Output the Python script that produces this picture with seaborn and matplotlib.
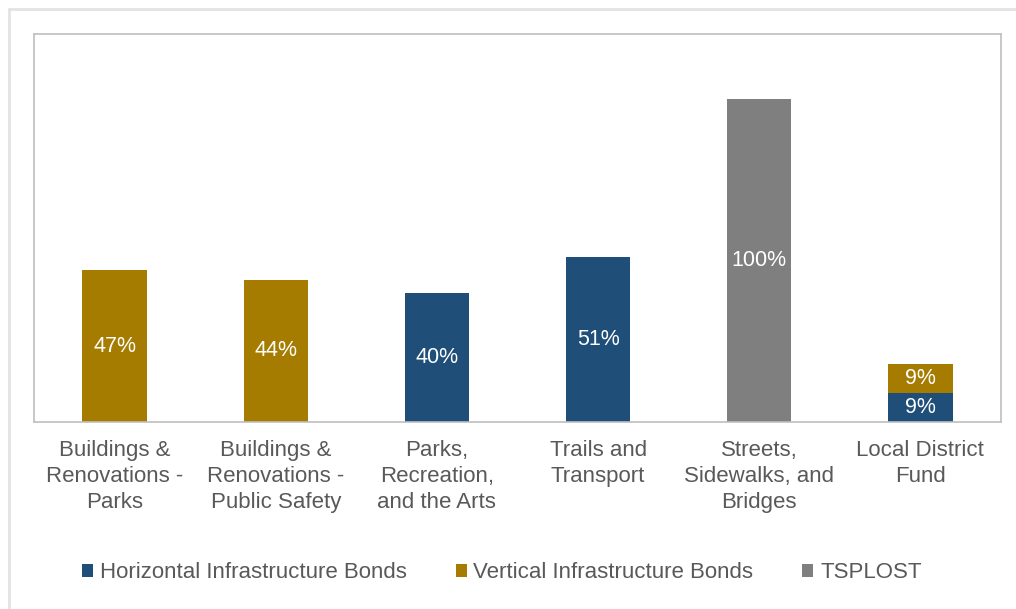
import matplotlib.pyplot as plt
import seaborn as sns
import numpy as np
from matplotlib.lines import Line2D
from matplotlib.patches import Patch

categories = ["Buildings &\nRenovations -\nParks",
              "Buildings &\nRenovations -\nPublic Safety",
              "Parks,\nRecreation,\nand the Arts",
              "Trails and\nTransport",
              "Streets,\nSidewalks, and\nBridges",
              "Local District\nFund"]
horizontal = [0, 0, 40, 51, 0, 9]
vertical = [47, 44, 0, 0, 0, 9]
tsplost = [0, 0, 0, 0, 100, 0]

series_names = ["Horizontal Infrastructure Bonds",
                "Vertical Infrastructure Bonds",
                "TSPLOST"]
palette = ["#1F4E79", "#A67C00", "#7F7F7F"]
text_grey = "#595959"


def main():
    sns.set_style("white")
    plt.rcParams["font.family"] = ["Liberation Sans", "DejaVu Sans"]

    fig = plt.figure(figsize=(10.16, 6.09), dpi=100)
    ax = fig.add_axes([34 / 1016, 1 - 422 / 609, 967 / 1016, 388 / 609])

    bottom = np.zeros(len(categories))
    for vals, color in zip([horizontal, vertical, tsplost], palette):
        sns.barplot(x=categories, y=vals, color=color, width=0.4,
                    bottom=bottom, linewidth=0, saturation=1, ax=ax)
        for i, v in enumerate(vals):
            if v > 0:
                ax.text(i, bottom[i] + v / 2, f"{v}%", ha="center",
                        va="center", color="white", fontsize=15.5)
        bottom = bottom + np.array(vals)

    ax.set_xlim(-0.5, 5.5)
    ax.set_ylim(0, 120)
    ax.set_yticks([])
    ax.tick_params(axis="x", length=0, pad=13, labelsize=16,
                   labelcolor=text_grey)
    for lbl in ax.get_xticklabels():
        lbl.set_linespacing(1.3)
    for s in ax.spines.values():
        s.set_color("#BFBFBF")
        s.set_linewidth(1.2)

    handles = [Patch(facecolor=c, edgecolor="none") for c in palette]
    fig.legend(handles, series_names, loc="center",
               bbox_to_anchor=(0.494, 1 - 573 / 609), ncol=3,
               frameon=False, fontsize=16, labelcolor=text_grey,
               handlelength=0.5, handleheight=0.5, handletextpad=0.3,
               columnspacing=2.2)

    # light outer border (top and left only)
    fig.add_artist(Line2D([9 / 1016, 1], [1 - 9 / 609, 1 - 9 / 609],
                          color="#E3E3E3", lw=2, transform=fig.transFigure))
    fig.add_artist(Line2D([9 / 1016, 9 / 1016], [0, 1 - 9 / 609],
                          color="#E3E3E3", lw=2, transform=fig.transFigure))

    plt.savefig("out.png", dpi=100)


if __name__ == "__main__":
    main()
